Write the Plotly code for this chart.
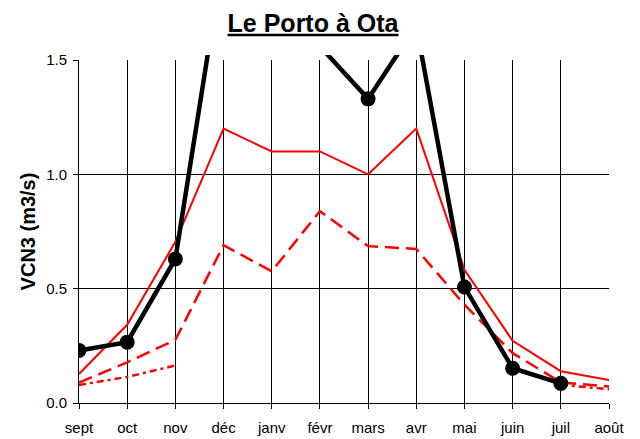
import plotly.graph_objects as go

# mois hydrologiques (septembre -> août)
mois = ["sept", "oct", "nov", "déc", "janv", "févr", "mars", "avr", "mai", "juin", "juil", "août"]

# VCN3 (m3/s)
vcn3_annee = [0.23, 0.266, 0.63, 1.96, 2.1, 1.56, 1.33, 1.65, 0.507, 0.152, 0.086, None]
vcn3_max = [0.127, 0.342, 0.705, 1.20, 1.10, 1.10, 1.00, 1.20, 0.583, 0.272, 0.139, 0.10]
vcn3_moy = [0.089, 0.178, 0.276, 0.69, 0.576, 0.839, 0.686, 0.674, 0.43, 0.218, 0.09, 0.072]
vcn3_min = [0.079, 0.114, 0.164, None, None, None, None, None, None, None, 0.08, 0.06]

police = "Liberation Sans, Arial, sans-serif"
haut_trace = 348  # hauteur (px) de la zone où la courbe noire peut déborder
haut_axe = 343    # hauteur (px) de l'axe 0 - 1.5

# la page html garde la marge de 8 px du <body> : figure réduite d'autant
larg, haut = 632, 431

fig = go.Figure()
fig.add_trace(go.Scatter(
    x=mois, y=vcn3_min, mode="lines",
    line=dict(color="#ff0000", width=2.5, dash="7px,4px,3px,4px"),
    connectgaps=False,
))
fig.add_trace(go.Scatter(
    x=mois, y=vcn3_moy, mode="lines",
    line=dict(color="#ff0000", width=2.5, dash="14px,7px"),
))
fig.add_trace(go.Scatter(
    x=mois, y=vcn3_max, mode="lines",
    line=dict(color="#ff0000", width=2),
))
# courbe noire sur un second repère légèrement plus haut (débordement au-dessus de 1.5)
fig.add_trace(go.Scatter(
    x=mois, y=vcn3_annee, mode="lines+markers",
    line=dict(color="black", width=4.5),
    marker=dict(color="black", size=15),
    xaxis="x2", yaxis="y2",
))

fig.update_layout(
    width=larg, height=haut,
    margin=dict(l=71, r=31, t=47, b=36),
    paper_bgcolor="white",
    plot_bgcolor="rgba(0,0,0,0)",
    showlegend=False,
    title=dict(
        text="<b><u>Le Porto à Ota</u></b>",
        x=305 / larg, xanchor="center", y=1 - 15 / haut, yanchor="middle",
        font=dict(family=police, size=25, color="black"),
    ),
    xaxis=dict(
        type="category", range=[0, 11], anchor="y", automargin=False,
        showgrid=True, gridcolor="black", gridwidth=1,
        showline=True, linecolor="black", linewidth=1,
        ticks="outside", ticklen=5, tickcolor="black", ticklabelstandoff=6,
        tickfont=dict(family=police, size=15, color="black"),
    ),
    yaxis=dict(
        domain=[0, haut_axe / haut_trace], range=[0, 1.5], dtick=0.5, tickformat=".1f",
        automargin=False,
        showgrid=True, gridcolor="black", gridwidth=1, zeroline=False,
        showline=True, linecolor="black", linewidth=1,
        ticks="outside", ticklen=5, tickcolor="black", ticklabelstandoff=3,
        tickfont=dict(family=police, size=15, color="black"),
        title=dict(text="<b>VCN3 (m3/s)</b>", font=dict(family=police, size=20, color="black"),
                   standoff=5),
    ),
    xaxis2=dict(type="category", range=[0, 11], visible=False, anchor="y2",
                showgrid=False, automargin=False),
    yaxis2=dict(domain=[0, 1], range=[0, 1.5 * haut_trace / haut_axe], visible=False,
                anchor="x2", showgrid=False, zeroline=False, automargin=False),
)

fig.write_html("out.html")
